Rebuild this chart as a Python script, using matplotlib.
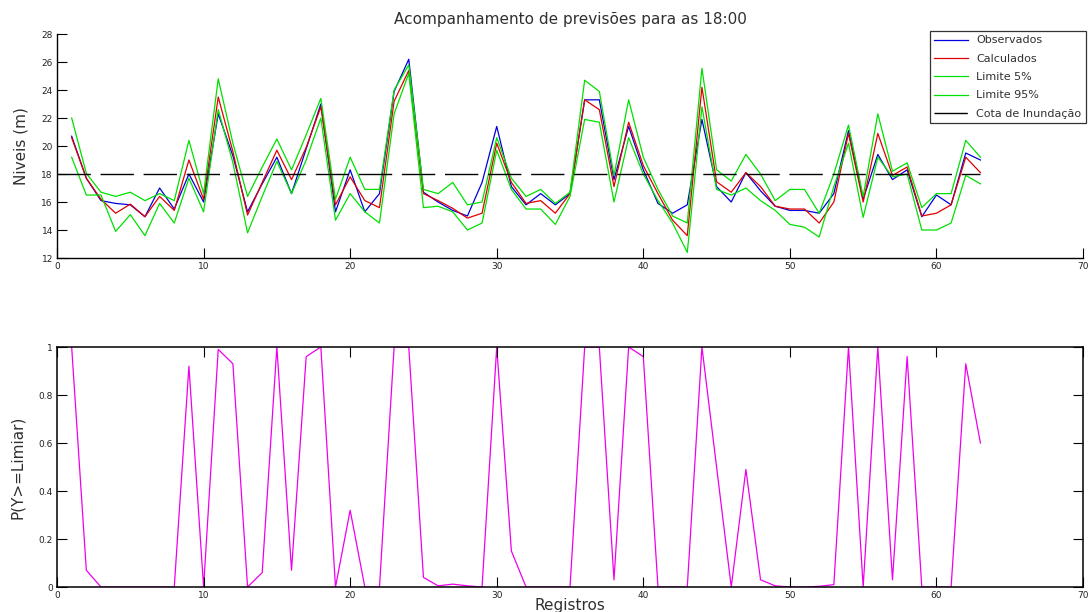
import numpy as np
import matplotlib
matplotlib.use("Agg")
import matplotlib.pyplot as plt
from matplotlib.ticker import FormatStrFormatter

plt.rcParams['font.family'] = ['DejaVu Sans']
plt.rcParams['text.color'] = '#303030'
plt.rcParams['axes.labelcolor'] = '#303030'

registros = list(range(1, 64))

observados = [20.7, 17.7, 16.1, 15.9, 15.8, 14.95, 17.0, 15.5, 18.0, 16.0,
              22.3, 19.3, 15.3, 17.3, 19.2, 16.6, 19.8, 23.0, 15.3, 18.3,
              15.3, 16.6, 23.9, 26.2, 16.7, 16.0, 15.4, 15.0, 17.4, 21.4,
              17.1, 15.8, 16.6, 15.8, 16.6, 23.3, 23.3, 17.6, 21.4, 18.3,
              15.9, 15.2, 15.8, 21.9, 17.1, 16.0, 18.1, 16.8, 15.7, 15.4,
              15.4, 15.2, 16.6, 21.1, 16.2, 19.4, 17.6, 18.3, 14.95, 16.5,
              15.8, 19.5, 19.0]

calculados = [20.6, 17.7, 16.2, 15.2, 15.85, 14.95, 16.4, 15.4, 19.0, 16.2,
              23.5, 19.6, 15.07, 17.4, 19.7, 17.6, 19.9, 22.8, 15.8, 17.8,
              16.1, 15.6, 23.2, 25.4, 16.6, 16.1, 15.55, 14.85, 15.2, 20.2,
              17.4, 15.9, 16.1, 15.2, 16.6, 23.3, 22.6, 17.1, 21.7, 18.6,
              16.6, 14.7, 13.6, 24.2, 17.45, 16.7, 18.1, 17.1, 15.7, 15.5,
              15.5, 14.5, 16.0, 20.9, 16.0, 20.9, 17.9, 18.5, 15.0, 15.2,
              15.8, 19.2, 18.1]

limite_5 = [19.2, 16.5, 16.5, 13.9, 15.1, 13.6, 15.9, 14.5, 17.7, 15.3,
            22.6, 18.8, 13.8, 16.4, 18.9, 16.6, 19.0, 22.0, 14.7, 16.6,
            15.3, 14.5, 22.3, 25.2, 15.6, 15.7, 15.3, 14.0, 14.5, 19.7,
            16.9, 15.5, 15.5, 14.4, 16.4, 21.9, 21.7, 16.0, 20.6, 18.0,
            16.1, 14.5, 12.4, 22.8, 16.9, 16.5, 17.0, 16.1, 15.4, 14.4,
            14.2, 13.5, 17.1, 20.2, 14.9, 19.2, 17.8, 18.0, 14.0, 14.0,
            14.5, 17.9, 17.3]

limite_95 = [22.0, 18.05, 16.7, 16.4, 16.7, 16.1, 16.6, 16.1, 20.4, 16.6,
             24.8, 20.2, 16.4, 18.5, 20.5, 18.3, 20.8, 23.4, 16.2, 19.2,
             16.9, 16.9, 24.0, 25.8, 16.9, 16.6, 17.4, 15.8, 16.0, 20.6,
             17.7, 16.4, 16.9, 15.9, 16.7, 24.7, 23.9, 17.9, 23.3, 19.2,
             16.9, 15.0, 14.5, 25.55, 18.3, 17.5, 19.4, 18.0, 16.1, 16.9,
             16.9, 15.2, 18.0, 21.5, 16.4, 22.3, 18.2, 18.8, 15.6, 16.6,
             16.6, 20.4, 19.2]

cota_x = [0, 63]
cota_inundacao = 18

prob = [1.0, 0.07, 0.0, 0.0, 0.0, 0.0, 0.0, 0.0, 0.92, 0.0,
        0.99, 0.93, 0.0, 0.06, 1.0, 0.07, 0.96, 1.0, 0.0, 0.32,
        0.0, 0.0, 1.0, 1.0, 0.04, 0.005, 0.012, 0.005, 0.0, 1.0,
        0.15, 0.0, 0.0, 0.0, 0.0, 1.0, 1.0, 0.03, 1.0, 0.96,
        0.0, 0.0, 0.0, 1.0, 0.5, 0.0, 0.49, 0.03, 0.005, 0.0,
        0.0, 0.003, 0.01, 1.0, 0.0, 1.0, 0.03, 0.96, 0.0, 0.0,
        0.0, 0.93, 0.6]

fig = plt.figure(figsize=(10.9, 6.12), dpi=100)

# top panel: levels
ax1 = fig.add_axes([0.0523, 0.5784, 0.9413, 0.366])
ax1.plot(registros, observados, color='#0000dd', lw=0.9, label='Observados')
ax1.plot(registros, calculados, color='#e00000', lw=0.9, label='Calculados')
ax1.plot(registros, limite_5, color='#00e000', lw=0.9, label='Limite 5%')
ax1.plot(registros, limite_95, color='#00e000', lw=0.9, label='Limite 95%')
ax1.plot(cota_x, [cota_inundacao] * 2, color='black', lw=1.0,
         dashes=(24, 7), label='Cota de Inundação')
ax1.set_xlim(0, 70)
ax1.set_ylim(12, 28)
ax1.set_yticks(np.arange(12, 29, 2))
ax1.set_xticks(np.arange(0, 71, 10))
ax1.spines['top'].set_visible(False)
ax1.spines['right'].set_visible(False)
for s in ax1.spines.values():
    s.set_linewidth(1.0)
ax1.tick_params(direction='in', length=7, width=0.8, labelsize=6.5,
                labelcolor='#222222', pad=3)
ax1.set_ylabel('Niveis (m)', fontsize=11)
ax1.yaxis.set_label_coords(-0.0273, 0.5)
ax1.set_title('Acompanhamento de previsões para as 18:00', fontsize=11, pad=7)
leg = ax1.legend(loc='upper right', bbox_to_anchor=(1086 / 1090, 1 - 31 / 612),
                 bbox_transform=fig.transFigure, fontsize=8, frameon=True,
                 fancybox=False, edgecolor='black', handlelength=3.0,
                 labelspacing=0.75, borderpad=0.4, handletextpad=0.8,
                 borderaxespad=0)
leg.get_frame().set_linewidth(0.9)

# bottom panel: probability
ax2 = fig.add_axes([0.0523, 0.0408, 0.9413, 0.3922])
ax2.plot(registros, prob, color='#ee00ee', lw=0.9, zorder=1.5)
ax2.set_xlim(0, 70)
ax2.set_ylim(0, 1)
ax2.set_xticks(np.arange(0, 71, 10))
ax2.set_yticks([0, 0.2, 0.4, 0.6, 0.8, 1])
ax2.yaxis.set_major_formatter(FormatStrFormatter('%g'))
for s in ax2.spines.values():
    s.set_linewidth(1.1)
ax2.tick_params(direction='in', length=7, width=0.8, labelsize=6.5,
                labelcolor='#222222', pad=3, top=True, right=True)
ax2.set_ylabel('P(Y>=Limiar)', fontsize=11)
ax2.yaxis.set_label_coords(-0.031, 0.5)
ax2.set_xlabel('Registros', fontsize=11)
ax2.xaxis.set_label_coords(0.5, -0.045)

fig.savefig('out.png', dpi=100)
